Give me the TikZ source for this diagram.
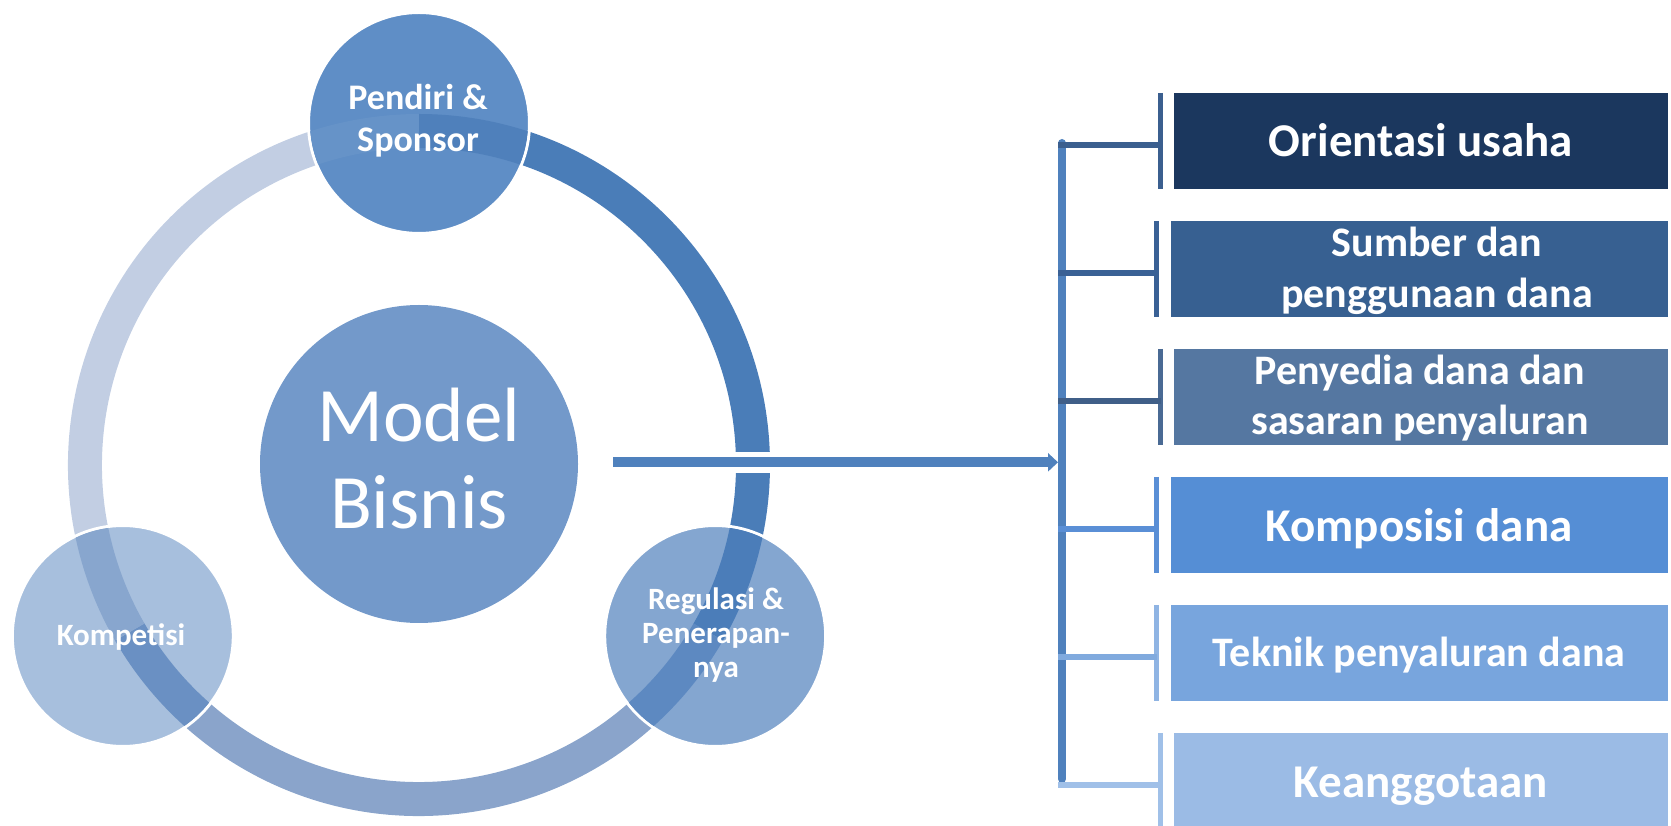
\documentclass[tikz,border=0pt]{standalone}
\usepackage{fontspec}
\setmainfont{Carlito}
\usetikzlibrary{arrows.meta,calc}
\definecolor{darkarc}{HTML}{4A7DB8}
\definecolor{botarc}{HTML}{8AA4CB}
\definecolor{lightarc}{HTML}{C2CEE3}
\definecolor{pfill}{HTML}{5F8EC6}
\definecolor{mfill}{HTML}{7399CA}
\definecolor{kfill}{HTML}{A7BFDD}
\definecolor{rfill}{HTML}{84A6D0}
\definecolor{pbandin}{HTML}{6693C8}
\definecolor{pbandout}{HTML}{4F80BB}
\definecolor{rbandin}{HTML}{4B7DB9}
\definecolor{rbandout}{HTML}{5D89C1}
\definecolor{kbandin}{HTML}{6A90C3}
\definecolor{kbandout}{HTML}{88A6CE}
\definecolor{busc}{HTML}{4F81BD}
\definecolor{boxa}{HTML}{1B375E}
\definecolor{boxb}{HTML}{376091}
\definecolor{boxc}{HTML}{5577A1}
\definecolor{boxd}{HTML}{558ED5}
\definecolor{boxe}{HTML}{78A5DD}
\definecolor{boxf}{HTML}{9BBBE5}
\definecolor{ticka}{HTML}{3B5F8F}
\definecolor{tickb}{HTML}{3A6195}
\definecolor{tickc}{HTML}{4A6A94}
\definecolor{tickd}{HTML}{5A8FD6}
\definecolor{ticke}{HTML}{8FB4E3}
\definecolor{tickf}{HTML}{A0C0E8}
\definecolor{brc}{HTML}{405F88}
\definecolor{bre}{HTML}{80AADE}
\begin{document}
\begin{tikzpicture}[x=1pt,y=1pt,
  ringarc/.style={line width=34pt},
  bubble/.style={circle, minimum size=221pt, inner sep=0pt, draw=white, line width=3pt},
  ctext/.style={text=white, anchor=base, inner sep=0pt},
  fbox/.style={rectangle, anchor=north west, minimum width=#1, minimum height=96pt, inner sep=0pt, draw=none},
  tickline/.style={line width=5pt},
  branch/.style={line width=5.5pt},
  busline/.style={line width=8pt, busc, line cap=round},
  arr/.style={line width=10pt, busc, -{Triangle[length=10pt,width=18pt]}},
  btext/.style={text=white, anchor=base, inner sep=0pt, font=\bfseries\fontsize{47}{56}\selectfont},
  btextb/.style={text=white, anchor=base, inner sep=0pt, font=\bfseries\fontsize{42}{51}\selectfont}
]
\useasboundingbox (0,0) rectangle (1671,825);
\coordinate (C) at (419,360);
% ring arcs
\draw[ringarc, darkarc] ($(C)+(90:334)$) arc[start angle=90, end angle=-30, radius=334];
\draw[ringarc, botarc] ($(C)+(-30:334)$) arc[start angle=-30, end angle=-150, radius=334];
\draw[ringarc, lightarc] ($(C)+(210:334)$) arc[start angle=210, end angle=90, radius=334];
% satellite circles
\node[bubble, fill=pfill] (P) at ($(C)+(90:342)$) {};
\node[bubble, fill=rfill] (R) at ($(C)+(-30:342)$) {};
\node[bubble, fill=kfill] (K) at ($(C)+(210:342)$) {};
\begin{scope}
  \clip (P.center) circle (109);
  \draw[ringarc, pbandin] ($(C)+(118:334)$) arc[start angle=118, end angle=90, radius=334];
  \draw[ringarc, pbandout] ($(C)+(90:334)$) arc[start angle=90, end angle=62, radius=334];
\end{scope}
\begin{scope}
  \clip (R.center) circle (109);
  \draw[ringarc, rbandin] ($(C)+(-2:334)$) arc[start angle=-2, end angle=-30, radius=334];
  \draw[ringarc, rbandout] ($(C)+(-30:334)$) arc[start angle=-30, end angle=-58, radius=334];
\end{scope}
\begin{scope}
  \clip (K.center) circle (109);
  \draw[ringarc, kbandin] ($(C)+(-122:334)$) arc[start angle=-122, end angle=-150, radius=334];
  \draw[ringarc, kbandout] ($(C)+(-150:334)$) arc[start angle=-150, end angle=-178, radius=334];
\end{scope}
% central circle
\node[circle, minimum size=318pt, inner sep=0pt, fill=mfill] (M) at (419,361) {};
% arrow
\coordinate (ws) at (690,362.7);
\coordinate (we) at (820,362.7);
\coordinate (as) at (613,362.7);
\coordinate (at) at (1058,362.7);
\draw[white, line width=21pt] (ws) -- (we);
\draw[arr] (as) -- (at);
% bus
\coordinate (bt) at (1062,682);
\coordinate (bb) at (1062,46);
\draw[busline] (bt) -- (bb);
% boxes
\node[fbox=494pt, fill=boxa] (b1) at (1174,732) {};
\node[fbox=497pt, fill=boxb] (b2) at (1171,604) {};
\node[fbox=494pt, fill=boxc] (b3) at (1174,476) {};
\node[fbox=497pt, fill=boxd] (b4) at (1171,348) {};
\node[fbox=497pt, fill=boxe] (b5) at (1171,220) {};
\node[fbox=494pt, fill=boxf] (b6) at (1174,92) {};
% ticks
\coordinate (t1) at ([xshift=-13.5pt]b1.north west);
\coordinate (t2) at ([xshift=-14.5pt]b2.north west);
\coordinate (t3) at ([xshift=-13.5pt]b3.north west);
\coordinate (t4) at ([xshift=-14.5pt]b4.north west);
\coordinate (t5) at ([xshift=-14.5pt]b5.north west);
\coordinate (t6) at ([xshift=-13.5pt]b6.north west);
\coordinate (u1) at ([xshift=-13.5pt]b1.south west);
\coordinate (u2) at ([xshift=-14.5pt]b2.south west);
\coordinate (u3) at ([xshift=-13.5pt]b3.south west);
\coordinate (u4) at ([xshift=-14.5pt]b4.south west);
\coordinate (u5) at ([xshift=-14.5pt]b5.south west);
\coordinate (u6) at ([xshift=-13.5pt]b6.south west);
\draw[tickline, ticka] (t1) -- (u1);
\draw[tickline, tickb] (t2) -- (u2);
\draw[tickline, tickc] (t3) -- (u3);
\draw[tickline, tickd] (t4) -- (u4);
\draw[tickline, ticke] (t5) -- (u5);
\draw[tickline, tickf] (t6) -- (u6);
% branches
\coordinate (j1) at (1058,680);
\coordinate (j2) at (1058,552);
\coordinate (j3) at (1058,424);
\coordinate (j4) at (1058,296);
\coordinate (j5) at (1058,168);
\coordinate (j6) at (1058,40);
\draw[branch, ticka] (j1) -- (j1 -| t1);
\draw[branch, tickb] (j2) -- (j2 -| t2);
\draw[branch, brc] (j3) -- (j3 -| t3);
\draw[branch, tickd] (j4) -- (j4 -| t4);
\draw[branch, bre] (j5) -- (j5 -| t5);
\draw[branch, tickf] (j6) -- (j6 -| t6);
% texts in circles
\node[ctext, font=\fontsize{77}{87}\selectfont] (mt) at (419,383) {\begin{tabular}[t]{@{}c@{}}Model\\Bisnis\end{tabular}};
\node[ctext, font=\bfseries\fontsize{36}{42}\selectfont] (pt) at (418,715) {\begin{tabular}[t]{@{}c@{}}Pendiri \&\\Sponsor\end{tabular}};
\node[ctext, font=\bfseries\fontsize{31}{36}\selectfont] (kt) at (121,179) {Kompetisi};
\node[ctext, font=\bfseries\fontsize{31}{34}\selectfont] (rt) at (716,215) {\begin{tabular}[t]{@{}c@{}}Regulasi \&\\Penerapan-\\nya\end{tabular}};
% texts in boxes
\node[btext] (x1) at (1421,668) {Orientasi usaha};
\node[btextb] (x2) at (1437,568) {\begin{tabular}[t]{@{}c@{}}Sumber dan\\penggunaan dana\end{tabular}};
\node[btextb, font=\bfseries\fontsize{42}{50}\selectfont] (x3) at (1420,440) {\begin{tabular}[t]{@{}c@{}}Penyedia dana dan\\sasaran penyaluran\end{tabular}};
\node[btext] (x4) at (1419,283) {Komposisi dana};
\node[btextb] (x5) at (1419,158) {Teknik penyaluran dana};
\node[btext] (x6) at (1421,28) {Keanggotaan};
\end{tikzpicture}
\end{document}
